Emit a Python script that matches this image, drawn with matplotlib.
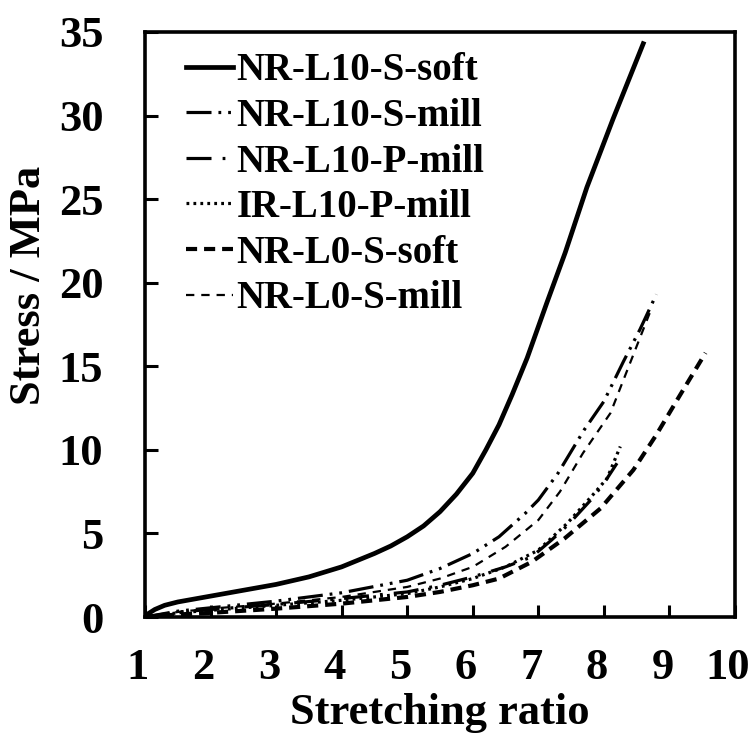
import matplotlib
matplotlib.use('Agg')
import matplotlib.pyplot as plt
import matplotlib.transforms as mtransforms

plt.rcParams['font.family'] = ['Liberation Serif', 'DejaVu Serif']
plt.rcParams['font.weight'] = 'bold'
plt.rcParams['lines.scale_dashes'] = False

# stress-strain curves
soft_x = [1.0, 1.05, 1.15, 1.3, 1.5, 2.0, 2.5, 3.0, 3.5, 4.0, 4.5, 4.75, 5.0, 5.25, 5.5, 5.75, 6.0, 6.2, 6.4, 6.6, 6.83, 7.13, 7.41, 7.74, 8.14, 8.6]
soft_y = [0, 0.2, 0.45, 0.7, 0.9, 1.25, 1.6, 1.95, 2.4, 3.0, 3.8, 4.25, 4.8, 5.45, 6.3, 7.35, 8.6, 10.0, 11.5, 13.3, 15.5, 18.8, 21.8, 25.7, 29.8, 34.3]

smill_x = [1.0, 1.5, 2.0, 3.0, 4.0, 5.0, 5.5, 6.0, 6.4, 6.8, 7.0, 7.3, 7.7, 8.0, 8.3, 8.55, 8.8]
smill_y = [0, 0.35, 0.55, 0.95, 1.45, 2.2, 2.9, 3.8, 4.8, 6.2, 7.0, 8.6, 11.2, 12.9, 15.3, 17.2, 19.3]

pmill_x = [1.0, 1.5, 2.0, 3.0, 4.0, 5.0, 5.5, 6.0, 6.5, 6.9, 7.2, 7.45, 7.8, 8.0, 8.2]
pmill_y = [0, 0.3, 0.45, 0.75, 1.1, 1.5, 1.9, 2.4, 3.0, 3.6, 4.6, 5.5, 7.0, 8.0, 9.2]

ir_x = [1.0, 1.5, 2.0, 3.0, 4.0, 5.0, 5.5, 6.0, 6.5, 7.0, 7.44, 7.83, 8.05, 8.25]
ir_y = [0, 0.25, 0.4, 0.7, 1.0, 1.4, 1.8, 2.3, 3.0, 4.0, 5.6, 7.3, 8.3, 10.2]

l0soft_x = [1.0, 1.5, 2.0, 3.0, 4.0, 5.0, 5.5, 6.0, 6.4, 6.9, 7.4, 7.95, 8.45, 8.8, 9.15, 9.55]
l0soft_y = [0, 0.15, 0.25, 0.5, 0.8, 1.2, 1.5, 1.9, 2.3, 3.3, 4.7, 6.5, 8.8, 10.9, 13.2, 15.8]

l0mill_x = [1.0, 1.5, 2.0, 3.0, 4.0, 5.0, 5.5, 6.0, 6.5, 7.0, 7.33, 7.68, 8.1, 8.4, 8.7]
l0mill_y = [0, 0.3, 0.5, 0.8, 1.2, 1.8, 2.3, 3.0, 4.2, 5.8, 7.5, 9.8, 12.2, 15.2, 18.2]

fig = plt.figure(figsize=(7.52, 7.4), dpi=100)
ax = fig.add_axes([0.1928, 0.1662, 0.7846, 0.7906])

ax.plot(soft_x, soft_y, color='black', lw=3.4, label='NR-L10-S-soft')
ax.plot(smill_x, smill_y, color='black', lw=2.3, dashes=(18, 5, 2, 5, 2, 5), label='NR-L10-S-mill')
ax.plot(pmill_x, pmill_y, color='black', lw=2.3, dashes=(18, 8, 2, 8), label='NR-L10-P-mill')
ax.plot(ir_x, ir_y, color='black', lw=2.3, dashes=(2, 3), label='IR-L10-P-mill')
ax.plot(l0soft_x, l0soft_y, color='black', lw=3.0, dashes=(8, 5), label='NR-L0-S-soft')
ax.plot(l0mill_x, l0mill_y, color='black', lw=1.6, dashes=(6, 5), label='NR-L0-S-mill')

ax.set_xlim(1, 10)
ax.set_ylim(0, 35)
ax.set_xticks(range(1, 11))
ax.set_yticks(range(0, 36, 5))

for s in ax.spines.values():
    s.set_linewidth(2.6)
ax.tick_params(direction='in', length=9, width=2.2, labelsize=32)
ax.tick_params(axis='y', pad=30)
ax.tick_params(axis='x', pad=22)

# x tick labels sit a little left of their ticks
shift = mtransforms.ScaledTranslation(-0.07, 0, fig.dpi_scale_trans)
for lab in ax.get_xticklabels():
    lab.set_transform(lab.get_transform() + shift)

ax.set_xlabel('Stretching ratio', fontsize=32, fontweight='bold')
ax.set_ylabel('Stress / MPa', fontsize=32, fontweight='bold')
ax.xaxis.set_label_coords(0.5, -0.13)
ax.yaxis.set_label_coords(-0.163, 0.567)

ax.legend(loc='upper left', bbox_to_anchor=(0.05, 0.985), frameon=False,
          fontsize=28, handlelength=1.2, handletextpad=0.1,
          labelspacing=0.22, borderpad=0.3, borderaxespad=0)

fig.savefig('out.png', dpi=100)
